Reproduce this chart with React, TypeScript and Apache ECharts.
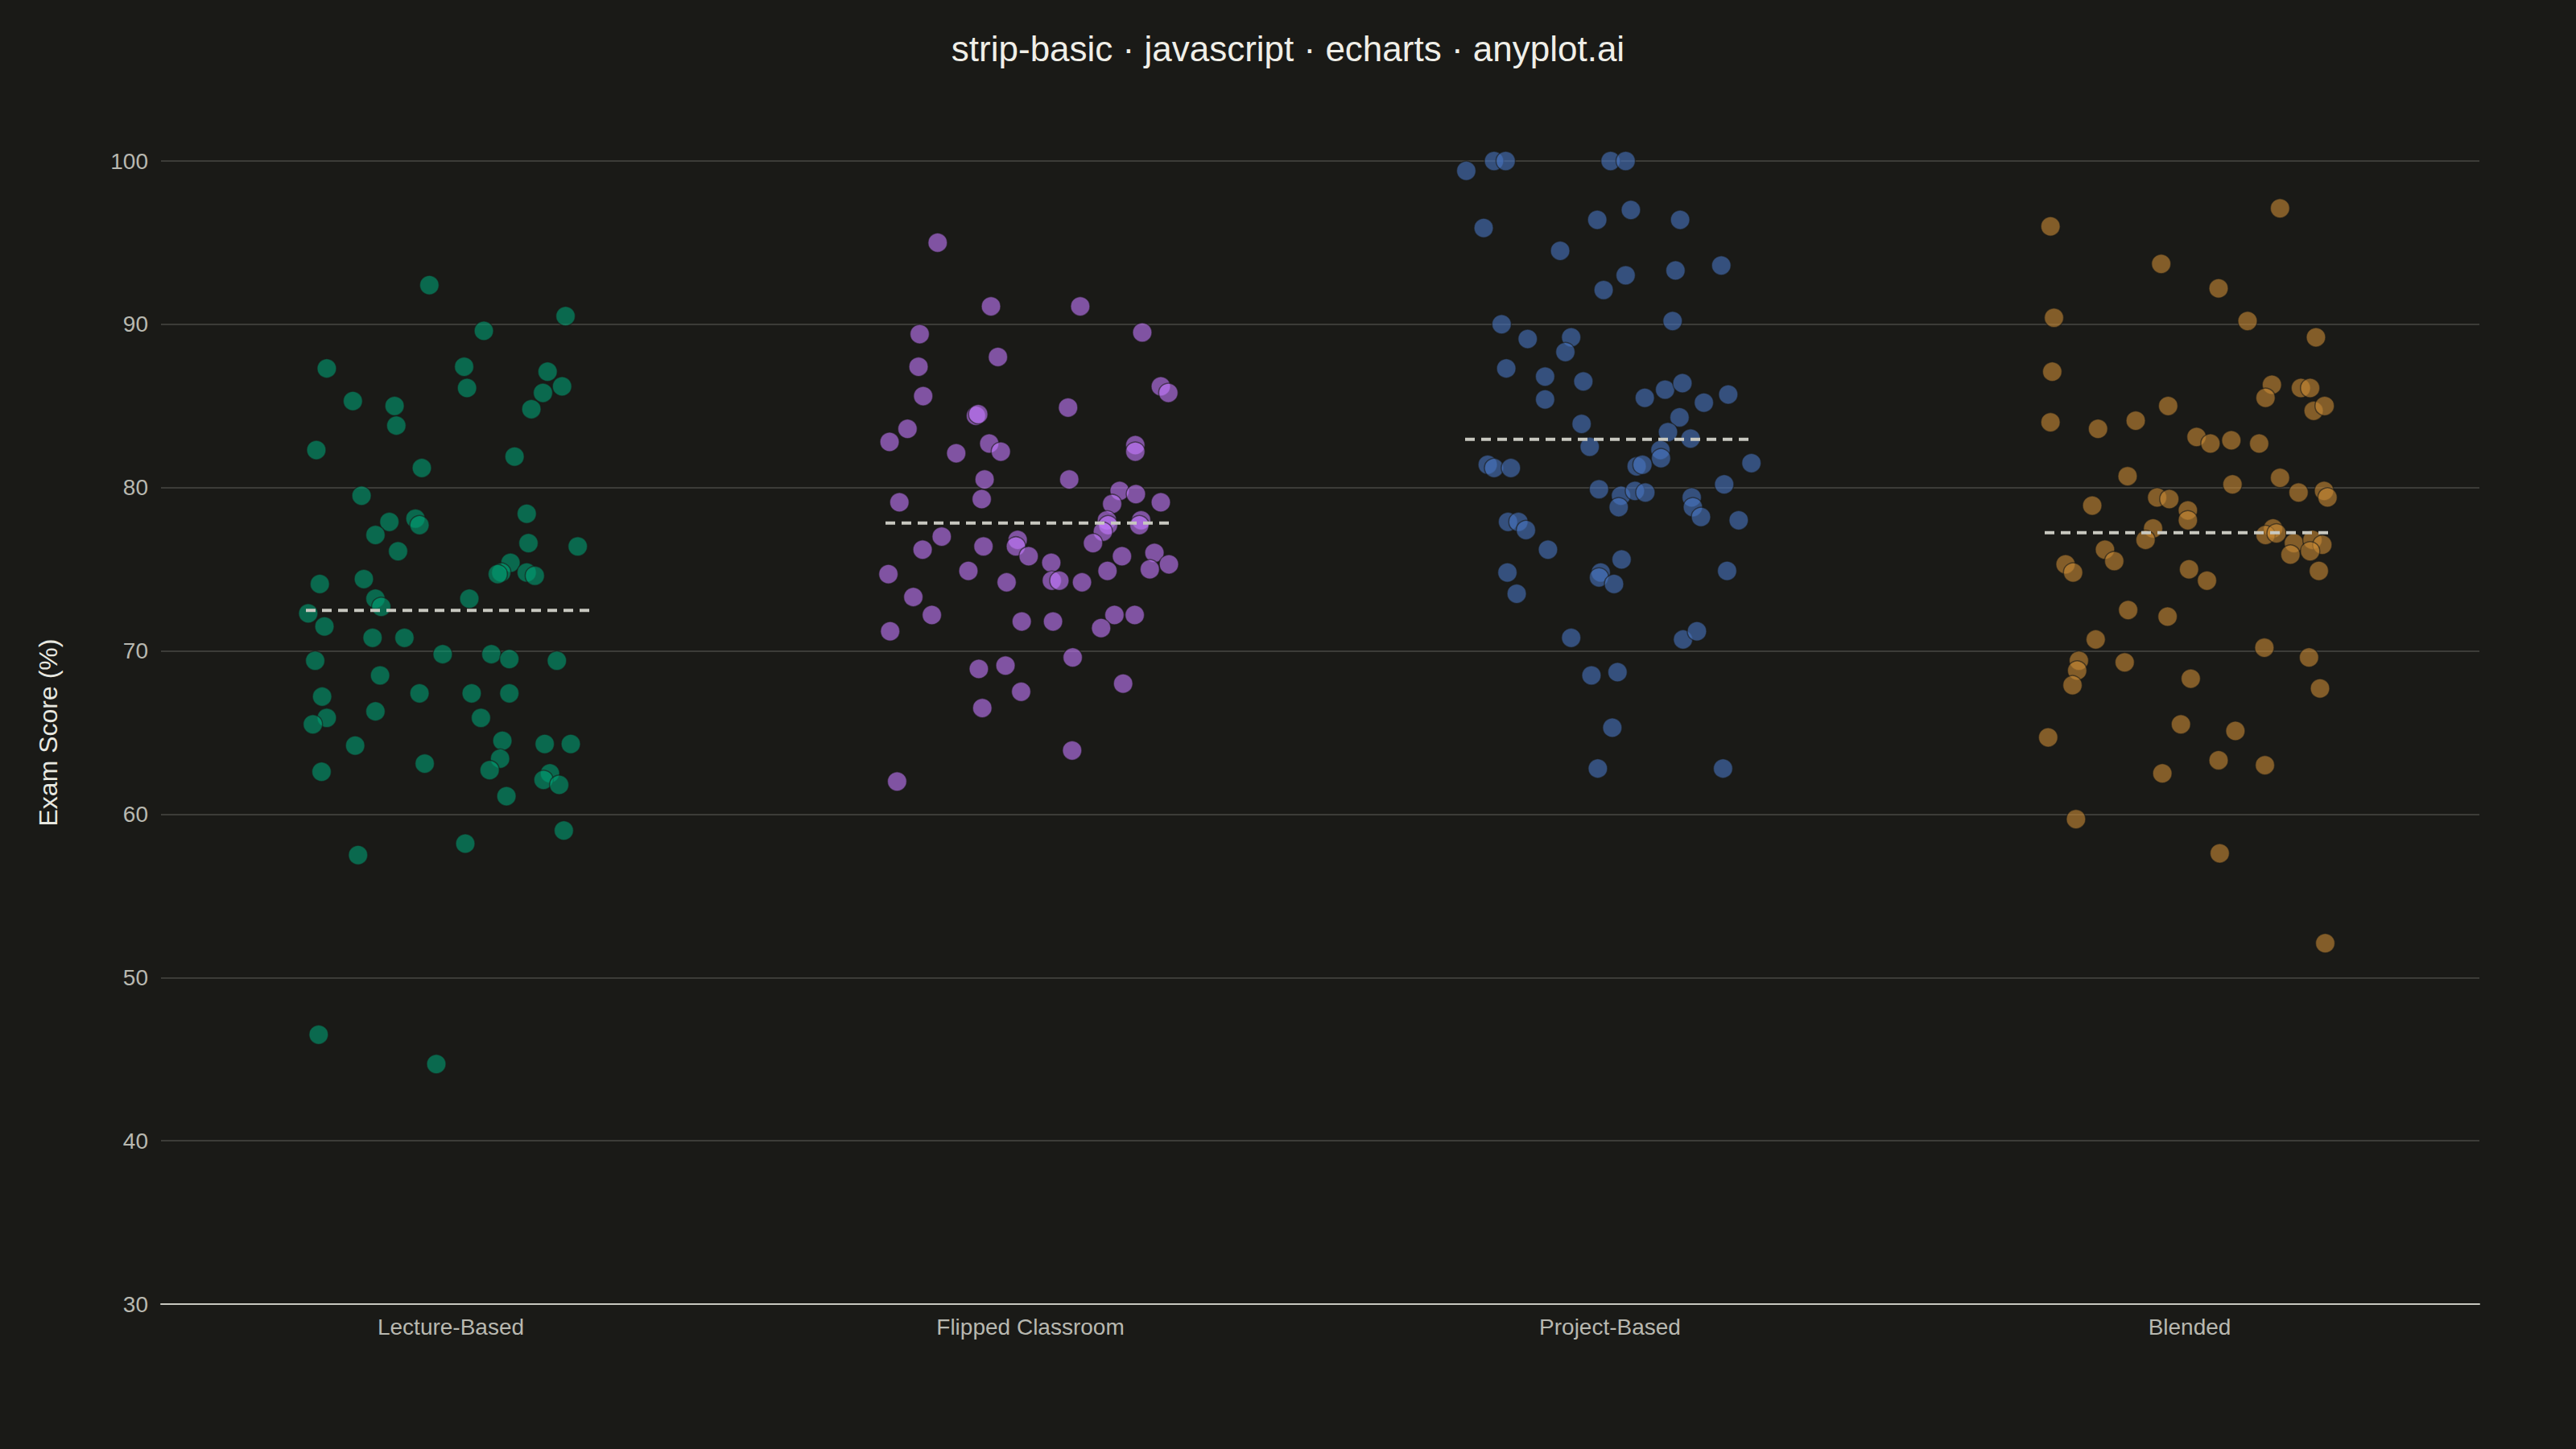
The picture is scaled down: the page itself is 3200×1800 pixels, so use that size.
import React, { useEffect, useRef } from "react";
import * as echarts from "echarts";

const TITLE = "strip-basic · javascript · echarts · anyplot.ai";
const Y_NAME = "Exam Score (%)";
const CATEGORIES = ["Lecture-Based", "Flipped Classroom", "Project-Based", "Blended"];
const COLORS = ["#009E73", "#C47AFF", "#4875C2", "#C98A35"];

const lectureScores = [
  92.4, 90.5, 89.6, 87.3, 87.4, 87.1, 86.1, 86.2, 85.8, 85.3, 85.0, 84.8, 83.8, 82.3, 81.9, 81.2, 79.5, 78.4, 77.9, 78.1,
  77.7, 77.1, 76.6, 76.1, 76.4, 75.4, 74.8, 74.7, 74.8, 74.6, 74.1, 74.4, 73.2, 72.7, 73.2, 72.3, 71.5, 70.8, 70.8,
  69.8, 69.8, 69.5, 69.4, 69.4, 68.5, 67.2, 67.4, 67.4, 67.4, 66.3, 65.9, 65.5, 65.9, 64.2, 64.5, 64.3, 64.3, 63.1,
  63.4, 62.7, 62.6, 62.5, 62.1, 61.8, 61.1, 59.0, 58.2, 57.5, 46.5, 44.7,
];
const lectureJitter = [
  -0.037, 0.198, 0.057, -0.214, 0.023, 0.167, 0.028, 0.192, 0.159, -0.169, -0.097, 0.139, -0.094, -0.232, 0.11, -0.05,
  -0.154, 0.131, -0.106, -0.061, -0.054, -0.13, 0.134, -0.091, 0.219, 0.103, 0.087, 0.081, 0.131, 0.145, -0.226, -0.15,
  -0.13, -0.12, 0.032, -0.246, -0.218, -0.135, -0.08,
  -0.014, 0.07, 0.101, 0.183, -0.234, -0.122, -0.222, -0.054, 0.036, 0.101, -0.13, -0.214, -0.238, 0.052, -0.165,
  0.089, 0.162, 0.207, -0.045, 0.085, 0.067, -0.223, 0.171, 0.16, 0.187, 0.096, 0.195, 0.025, -0.16, -0.228, -0.025,
];

const flippedScores = [
  95.0, 91.1, 91.1, 89.4, 89.5, 88.0, 87.4, 86.2, 85.8, 85.6, 84.4, 84.5, 84.9, 83.6, 82.8, 82.1, 82.7, 82.2, 82.6, 82.2,
  80.5, 80.5, 79.8, 79.6, 79.1, 79.1, 79.3, 79.0, 78.0, 77.7, 77.3, 78.0, 77.7, 77.0, 76.2, 76.4, 76.8, 76.4, 75.8,
  76.6, 75.8, 76.0, 75.3, 75.0, 75.4, 74.7, 74.9, 74.2, 74.3, 74.3, 74.2, 74.9, 73.3, 72.2, 71.2, 71.8, 71.8, 72.2,
  72.2, 71.4, 69.6, 68.9, 69.1, 68.0, 67.5, 66.5, 63.9, 62.0,
];
const flippedJitter = [
  -0.16, -0.068, 0.086, -0.191, 0.193, -0.056, -0.193, 0.225, 0.238, -0.185, -0.094, -0.09, 0.065, -0.212, -0.243,
  -0.128, -0.071, -0.051, 0.181, 0.181, -0.079, 0.067, 0.154, 0.182, 0.225, -0.226, -0.084, 0.141, 0.132, 0.134, 0.125,
  0.191, 0.188, -0.153, -0.186, -0.081, -0.022, -0.025, -0.003, 0.108, 0.158, 0.214, 0.239, 0.206, 0.036, -0.245,
  -0.107, -0.041, 0.037, 0.05, 0.089, 0.133, -0.202, -0.17, -0.242, -0.015, 0.039, 0.145, 0.18, 0.122, 0.073, -0.089,
  -0.043, 0.16, -0.016, -0.083, 0.072, -0.23,
];

const projectScores = [
  99.4, 100, 100, 100, 100, 95.9, 96.4, 97.0, 96.4, 94.5, 93.6, 93.3, 93.0, 92.1, 90.0, 90.2, 89.1, 89.2, 88.3, 87.3,
  86.8, 86.5, 85.4, 85.5, 86.0, 86.4, 85.2, 85.7, 84.3, 83.9, 83.4, 83.0, 82.5, 82.3, 81.8, 81.4, 81.2, 81.2, 81.3,
  81.4, 81.5, 80.2, 79.9, 79.5, 79.8, 79.7, 78.8, 79.4, 78.8, 78.2, 78.0, 77.9, 77.9, 77.4, 76.2, 75.6, 74.8, 74.8,
  74.5, 74.1, 74.9, 73.5, 70.8, 70.7, 71.2, 68.5, 68.7, 65.3, 62.8, 62.8,
];
const projectJitter = [
  -0.248, -0.2, -0.18, 0.001, 0.027, -0.218, -0.022, 0.036, 0.121, -0.086, 0.192, 0.113, 0.027, -0.011, -0.187, 0.108,
  -0.142, -0.067, -0.077, -0.179, -0.112, -0.046, -0.112, 0.06, 0.095, 0.125, 0.162, 0.204, 0.12, -0.049, 0.1, 0.139,
  -0.035, 0.087, 0.088, -0.211, -0.2, -0.171, 0.046, 0.056, 0.244, 0.197, -0.019, 0.019, 0.043, 0.061, 0.015, 0.141,
  0.143, 0.157, 0.222, -0.176, -0.158, -0.145, -0.107, 0.02, -0.177, -0.016, -0.019, 0.007, 0.202, -0.161, -0.067,
  0.126, 0.15, -0.032, 0.013, 0.004, -0.021, 0.195,
];

const blendedScores = [
  97.1, 96.0, 93.7, 92.2, 90.4, 90.2, 89.2, 87.1, 86.3, 85.5, 86.1, 86.1, 84.7, 85.0, 85.0, 84.0, 83.6, 84.1, 83.1, 82.7,
  82.9, 82.7, 80.7, 80.2, 80.6, 79.7, 79.8, 79.4, 78.9, 79.4, 79.3, 78.6, 78.0, 77.5, 76.8, 77.5, 77.1, 77.2, 76.6,
  75.9, 76.8, 76.5, 76.1, 76.2, 75.3, 74.8, 75.5, 75.0, 74.3, 74.9, 72.5, 72.1, 70.7, 70.2, 69.6, 69.4, 68.8, 67.9,
  69.3, 68.3, 67.7, 64.7, 65.5, 65.1, 63.3, 63.0, 62.5, 59.7, 57.6, 52.1,
];
const blendedJitter = [
  0.156, -0.24, -0.049, 0.05, -0.234, 0.1, 0.218, -0.237, 0.142, 0.131, 0.192, 0.208, 0.214, 0.233, -0.037, -0.24,
  -0.158, -0.093, 0.012, 0.036, 0.072, 0.12, -0.107, 0.074, 0.156, 0.188, 0.232, 0.238, -0.168, -0.056, -0.035, -0.003,
  -0.003, -0.063, -0.076, 0.144, 0.131, 0.15, 0.18, 0.174, 0.212, 0.229, 0.208, -0.146, -0.214, -0.201, -0.13, -0.001,
  0.03, 0.223, -0.106, -0.038, -0.162, 0.129, 0.206, -0.191, -0.194, -0.202, -0.112, 0.002, 0.225, -0.244, -0.015,
  0.079, 0.05, 0.13, -0.047, -0.196, 0.052, 0.234,
];

const SCORES = [lectureScores, flippedScores, projectScores, blendedScores];
const JITTER = [lectureJitter, flippedJitter, projectJitter, blendedJitter];
const MEAN_HALF_WIDTH = 0.25;

const FONT = "'Liberation Sans', Arial, Helvetica, sans-serif";
const BG = "#1A1A17";

export default function App() {
  const ref = useRef<HTMLDivElement | null>(null);

  useEffect(() => {
    if (!ref.current) return;
    const chart = echarts.init(ref.current, undefined, { renderer: "svg" });

    const scatterSeries = CATEGORIES.map((name, i) => ({
      name,
      type: "scatter",
      xAxisIndex: 1,
      yAxisIndex: 0,
      symbol: "circle",
      symbolSize: 24,
      data: SCORES[i].map((v, k) => [i + JITTER[i][k], v]),
      itemStyle: {
        color: COLORS[i],
        opacity: 0.6,
        borderColor: BG,
        borderWidth: 1.5,
      },
      z: 2,
    }));

    const meanSeries = CATEGORIES.map((name, i) => {
      const vals = SCORES[i];
      const mean = vals.reduce((a, b) => a + b, 0) / vals.length;
      return {
        name: name + " mean",
        type: "line",
        xAxisIndex: 1,
        yAxisIndex: 0,
        symbol: "none",
        data: [
          [i - MEAN_HALF_WIDTH, mean],
          [i + MEAN_HALF_WIDTH, mean],
        ],
        lineStyle: { color: "#C8C8C0", width: 4, type: [12, 8] },
        silent: true,
        z: 5,
      };
    });

    chart.setOption({
      animation: false,
      backgroundColor: BG,
      textStyle: { fontFamily: FONT },
      title: {
        text: TITLE,
        left: "center",
        top: 33,
        textStyle: { fontSize: 44, fontWeight: "normal", color: "#F0EFE8", fontFamily: FONT },
      },
      grid: { left: 200, right: 120, top: 200, bottom: 180, containLabel: false },
      xAxis: [
        {
          type: "category",
          data: CATEGORIES,
          boundaryGap: true,
          axisLine: { show: true, lineStyle: { color: "#C8C8C0", width: 2 } },
          axisTick: { show: false },
          axisLabel: { fontSize: 28, color: "#B8B8B0", margin: 14, fontFamily: FONT },
          splitLine: { show: false },
        },
        {
          type: "value",
          min: -0.5,
          max: 3.5,
          show: false,
          splitLine: { show: false },
        },
      ],
      yAxis: {
        type: "value",
        min: 30,
        max: 100,
        interval: 10,
        name: Y_NAME,
        nameLocation: "middle",
        nameGap: 124,
        nameTextStyle: { fontSize: 32, color: "#E8E8E0", fontFamily: FONT },
        axisLine: { show: false },
        axisTick: { show: false },
        axisLabel: { fontSize: 28, color: "#B8B8B0", margin: 16, fontFamily: FONT },
        splitLine: { show: true, lineStyle: { color: "#3C3C38", width: 2 } },
      },
      series: [...scatterSeries, ...meanSeries],
    });

    return () => chart.dispose();
  }, []);

  return (
    <div
      ref={ref}
      style={{ position: "fixed", left: 0, top: 0, width: 3200, height: 1800, background: BG }}
    />
  );
}
